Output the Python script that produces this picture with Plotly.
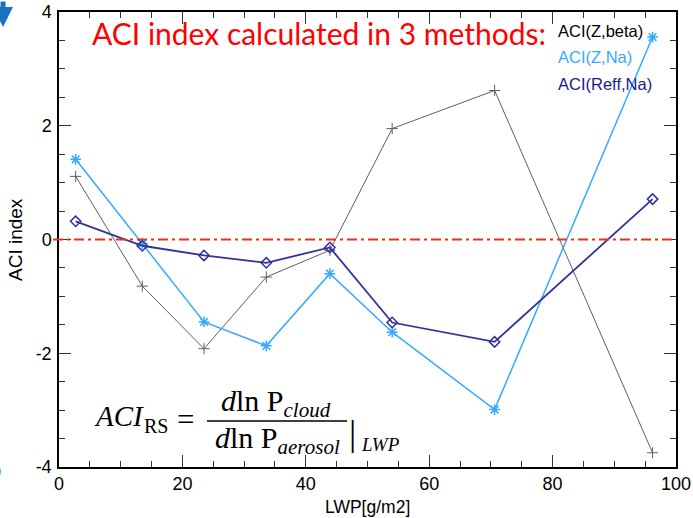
import plotly.graph_objects as go

# ---- data ----
lwp = [2.7, 13.5, 23.5, 33.6, 43.9, 54.0, 70.6, 96.2]
aci_z_beta = [1.11, -0.82, -1.92, -0.66, -0.19, 1.95, 2.62, -3.75]
aci_z_na = [1.41, -0.07, -1.45, -1.87, -0.60, -1.63, -2.99, 3.56]
aci_reff_na = [0.32, -0.11, -0.28, -0.41, -0.14, -1.46, -1.80, 0.71]
series_names = ["ACI(Z,beta)", "ACI(Z,Na)", "ACI(Reff,Na)"]
x_ticks = [0, 20, 40, 60, 80, 100]
x_tick_text = ["0", "20", "40", "60", "80", "100"]
y_ticks = [-4, -2, 0, 2, 4]
y_tick_text = ["-4", "-2", "0", "2", "4"]

W, H = 693, 518
L, R, T, B = 59, 676, 12, 467


def px(x):
    return (x - L) / (R - L)


def py(y):
    return (B - y) / (B - T)


GRAY = "#5e5e5e"
LBLUE = "#36aaff"
NAVY = "#32329a"

fig = go.Figure()
fig.add_trace(go.Scatter(x=lwp, y=aci_z_beta, mode="lines+markers", name=series_names[0],
                         line=dict(color=GRAY, width=1),
                         marker=dict(symbol="cross-thin-open", size=8, line=dict(color=GRAY, width=1))))
fig.add_trace(go.Scatter(x=lwp, y=aci_z_na, mode="lines+markers", name=series_names[1],
                         line=dict(color=LBLUE, width=1.5),
                         marker=dict(symbol="asterisk-open", size=9, line=dict(color=LBLUE, width=1.5))))
fig.add_trace(go.Scatter(x=lwp, y=aci_reff_na, mode="lines+markers", name=series_names[2],
                         line=dict(color=NAVY, width=1.8),
                         marker=dict(symbol="diamond-open", size=8, line=dict(color=NAVY, width=1.5))))

axis_font = dict(family="Liberation Sans, Arial, sans-serif", size=18, color="black")
fig.update_xaxes(range=[0, 100], tickvals=x_ticks, ticktext=x_tick_text, ticks="inside",
                 ticklen=12, tickwidth=1, automargin=False,
                 tickcolor="#333", showline=True, linecolor="black", linewidth=1.5,
                 mirror="allticks", showgrid=False, zeroline=False, tickfont=axis_font,
                 minor=dict(dtick=5, ticks="inside", ticklen=6, tickcolor="#333", tickwidth=1))
fig.update_yaxes(range=[-4, 4], tickvals=y_ticks, ticktext=y_tick_text, ticks="inside",
                 ticklen=12, tickwidth=1, automargin=False,
                 tickcolor="#333", showline=True, linecolor="black", linewidth=1.5,
                 mirror="allticks", showgrid=False, zeroline=False, tickfont=axis_font,
                 ticklabelstandoff=2,
                 minor=dict(dtick=0.5, ticks="inside", ticklen=6, tickcolor="#333", tickwidth=1))

ann = []
sans = "Liberation Sans, Arial, sans-serif"
serif = "Liberation Serif, Times New Roman, serif"


def text_at(text, x, y, font, xanchor="center", **kw):
    d = dict(text=text, x=px(x), y=py(y), xref="paper", yref="paper", xanchor=xanchor,
             yanchor="middle", showarrow=False, font=font)
    d.update(kw)
    ann.append(d)


# axis titles
text_at("LWP[g/m2]", 367, 507, dict(family=sans, size=17.5, color="black"))
text_at("ACI index", 15, 240, dict(family=sans, size=19, color="black"), textangle=-90)

# title in red
text_at("ACI index calculated in 3 methods:", 90, 33,
        dict(family="Lato, Carlito, sans-serif", size=30, color="#ff0000"), xanchor="left")

# legend as coloured text
leg_colors = ["black", LBLUE, "#1a1a8c"]
leg_y = [31, 57, 84]
for name, c, yy in zip(series_names, leg_colors, leg_y):
    text_at(name, 556, yy, dict(family=sans, size=16.5, color=c), xanchor="left")

# formula
text_at("<i>ACI</i>", 92, 416, dict(family=serif, size=29, color="black"), xanchor="left")
text_at("RS", 142, 426, dict(family=serif, size=20, color="black"), xanchor="left")
text_at("=", 175, 419, dict(family=serif, size=31, color="black"), xanchor="left")
text_at("<i>d</i>ln P<sub><i>cloud</i></sub>", 276, 403, dict(family=serif, size=30, color="black"))
text_at("<i>d</i>ln P<sub><i>aerosol</i></sub>", 277, 440, dict(family=serif, size=30, color="black"))
text_at("|", 352, 433, dict(family=serif, size=36, color="black"))
text_at("<i>LWP</i>", 359, 444, dict(family=serif, size=19, color="black"), xanchor="left")

# cropped artefacts at the left edge
text_at("0", 3, 472, dict(family=sans, size=18, color="black"), xanchor="right")
ann.append(dict(text="", x=px(3), y=py(27), xref="paper", yref="paper", showarrow=True,
                ax=0, ay=-40, arrowcolor="#1a72c4", arrowwidth=5, arrowhead=2, arrowsize=0.8))

fig.update_layout(
    width=W, height=H,
    margin=dict(l=L, r=W - R, t=T, b=H - B, autoexpand=False),
    paper_bgcolor="white", plot_bgcolor="white",
    showlegend=False,
    annotations=ann,
    shapes=[
        # zero reference line (dash-dot red)
        dict(type="line", xref="paper", yref="y", x0=px(53), x1=1.0, y0=0, y1=0,
             line=dict(color="#e8321e", width=2, dash="10px,4px,3px,4px"), layer="above"),
        # fraction bar of the formula
        dict(type="line", xref="paper", yref="paper", x0=px(207), x1=px(347), y0=py(421), y1=py(421),
             line=dict(color="black", width=1.5)),
    ],
)

fig.write_html("out.html")
